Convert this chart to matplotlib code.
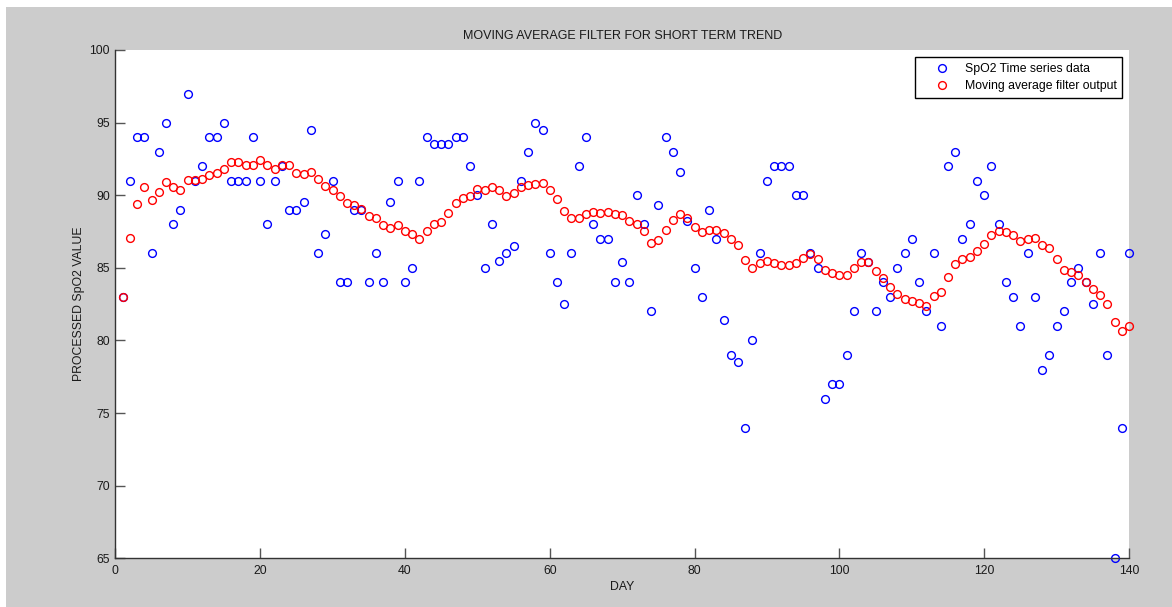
import numpy as np
from matplotlib import pyplot as plt
from matplotlib.patches import Rectangle

plt.rcParams['font.family'] = ['Liberation Sans', 'DejaVu Sans']

# days 1..140
days = np.arange(1, 141)

# raw SpO2 samples (blue)
spo2_raw = [
    83, 91, 94, 94, 86, 93, 95, 88, 89, 97,
    91, 92, 94, 94, 95, 91, 91, 91, 94, 91,
    88, 91, 92, 89, 89, 89.5, 94.5, 86, 87.3, 91,
    84, 84, 89, 89, 84, 86, 84, 89.5, 91, 84,
    85, 91, 94, 93.5, 93.5, 93.5, 94, 94, 92, 90,
    85, 88, 85.5, 86, 86.5, 91, 93, 95, 94.5, 86,
    84, 82.5, 86, 92, 94, 88, 87, 87, 84, 85.4,
    84, 90, 88, 82, 89.3, 94, 93, 91.6, 88.2, 85,
    83, 89, 87, 81.4, 79, 78.5, 74, 80, 86, 91,
    92, 92, 92, 90, 90, 86, 85, 76, 77, 77,
    79, 82, 86, 85.4, 82, 84, 83, 85, 86, 87,
    84, 82, 86, 81, 92, 93, 87, 88, 91, 90,
    92, 88, 84, 83, 81, 86, 83, 78, 79, 81,
    82, 84, 85, 84.0, 82.5, 86, 79, 65, 74, 86,
]

# moving average filter output (red)
spo2_avg = [
    83.0, 87.07, 89.39, 90.57, 89.64, 90.22, 90.91, 90.57, 90.36, 91.05,
    91.05, 91.14, 91.37, 91.56, 91.79, 92.29, 92.29, 92.11, 92.11, 92.43,
    92.11, 91.83, 92.06, 92.11, 91.56, 91.49, 91.63, 91.1, 90.63, 90.36,
    89.92, 89.48, 89.31, 89.02, 88.56, 88.4, 87.94, 87.76, 87.94, 87.57,
    87.3, 87.0, 87.53, 87.99, 88.13, 88.77, 89.44, 89.78, 89.97, 90.4,
    90.34, 90.59, 90.34, 89.94, 90.17, 90.59, 90.73, 90.8, 90.87, 90.34,
    89.71, 88.93, 88.4, 88.43, 88.68, 88.86, 88.8, 88.86, 88.72, 88.66,
    88.2, 87.99, 87.53, 86.68, 86.95, 87.6, 88.26, 88.68, 88.45, 87.8,
    87.46, 87.64, 87.64, 87.41, 87.0, 86.6, 85.55, 85.0, 85.3, 85.46,
    85.3, 85.2, 85.2, 85.34, 85.71, 85.96, 85.6, 84.87, 84.64, 84.49,
    84.49, 85.02, 85.41, 85.41, 84.81, 84.31, 83.71, 83.18, 82.88, 82.7,
    82.58, 82.35, 83.04, 83.36, 84.35, 85.27, 85.62, 85.78, 86.15, 86.63,
    87.23, 87.53, 87.48, 87.28, 86.86, 87.02, 87.07, 86.54, 86.4, 85.62,
    84.88, 84.7, 84.51, 84.01, 83.55, 83.16, 82.54, 81.27, 80.65, 81.0,
]

FS = 8.8

fig = plt.figure(figsize=(11.72, 6.07), dpi=100, facecolor='white')
# gray matlab-style background, thin white border top/left
fig.patches.append(Rectangle((6 / 1172, 0), 1, 1 - 7 / 607, transform=fig.transFigure,
                             facecolor='#cccccc', edgecolor='none', zorder=-10))

ax = fig.add_axes([115.3 / 1172, 1 - 558.3 / 607, (1129 - 115.3) / 1172, (558.3 - 50) / 607])
ax.set_facecolor('white')

ax.plot(days, spo2_raw, 'o', mfc='none', mec='#0000ff', ms=5.6, mew=1.0,
        label='SpO2 Time series data', clip_on=False)
ax.plot(days, spo2_avg, 'o', mfc='none', mec='#ff0000', ms=5.6, mew=1.0,
        label='Moving average filter output', clip_on=False)

ax.set_xlim(0, 140)
ax.set_ylim(65, 100)
ax.set_xticks(np.arange(0, 141, 20))
ax.set_yticks(np.arange(65, 101, 5))

ax.spines['top'].set_visible(False)
ax.spines['right'].set_visible(False)
for s in ['left', 'bottom']:
    ax.spines[s].set_color('#333333')
    ax.spines[s].set_linewidth(1.0)
ax.tick_params(direction='in', length=7, width=1, color='#555555',
               labelsize=FS, labelcolor='#1a1a1a')
ax.tick_params(axis='x', pad=5)
ax.tick_params(axis='y', pad=4)

ax.set_title('MOVING AVERAGE FILTER FOR SHORT TERM TREND', fontsize=9,
             color='#1a1a1a', pad=8)
ax.set_xlabel('DAY', fontsize=FS, color='#1a1a1a', labelpad=3)
ax.set_ylabel('PROCESSED SpO2 VALUE', fontsize=FS, color='#1a1a1a', labelpad=3)

leg = ax.legend(loc='upper right', bbox_to_anchor=(0.993, 0.9856), borderaxespad=0,
                fontsize=FS, fancybox=False, framealpha=1, edgecolor='black',
                handlelength=3.5, handletextpad=0.1, labelspacing=0.45,
                borderpad=0.45)
leg.get_frame().set_linewidth(1.0)

fig.savefig('out.png', dpi=100, facecolor=fig.get_facecolor())
